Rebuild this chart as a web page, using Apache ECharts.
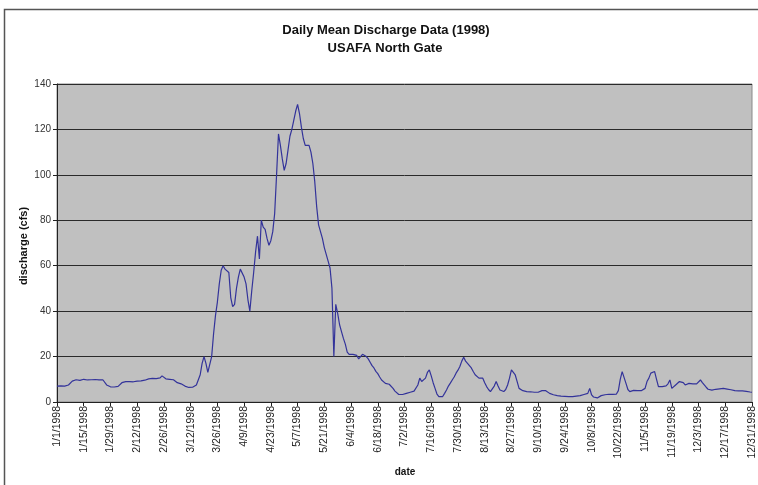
<!DOCTYPE html>
<html>
<head>
<meta charset="utf-8">
<script src="https://cdn.jsdelivr.net/npm/echarts@6/dist/echarts.min.js"></script>
<style>
html,body{margin:0;padding:0;background:#fff;}
#c{width:758px;height:485px;}
</style>
</head>
<body>
<div id="c"></div>
<script>
// Daily mean discharge (cfs), 1998
const jan = [7,7,7.1,7.2,7,7.3,7.5,8.2,9.2,9.6,9.8,9.7,9.5,9.8,10,9.9,9.7,9.6,9.8,10,9.9,9.8,9.7,9.6,9.8,9.5,7.5,6.8,6.7,6.9,6.6];
const feb = [6.8,6.9,7.2,8.5,8.8,9,8.9,9,9.1,8.9,9,9.2,9.1,9.3,9.4,9.6,9.8,10.2,10,10.4,9.8,10.3,10.1,10.6,11.5,11.2,10.2,10];
const mar = [10,10.2,9.8,9.5,8.5,8.2,8,8.3,7,6.5,6.4,6.6,6.5,6.8,7.5,8,12,17,20,17,13,12.5,20,30,38,44,52,58,60,58.5,58];
const apr = [57,46,42,43,50,55,58.5,58,55,52,45,40,49,57,66,73,63,80,77,76,72,69,71,75,83,100,118,113,107,102];
const may = [105,111,117,120,124,128,131,127,121,116,113,112.5,113,110,105,97,86,78,75,72,68,65,62,59,50,20,43,39,34,31,28];
const jun = [25.5,22,21,21.5,21,21,20.5,19,20,21,20.5,20,19,17.5,16,15,13.5,12.5,11,9.7,9,8.2,8,7.8,7.5,6,4.8,4,3.3,3.1];
const jul = [3.3,3.6,3.8,4,4.3,4.6,4.8,5.3,7.5,10.5,9,8.2,10.5,13,14.1,11.5,8.5,6,3.5,2.4,2.3,2.4,3.8,5.3,7,8.3,9.7,11,12.7,14,15.6];
const aug = [18,19.7,18,17,16.3,15,13.4,12,11.2,10.5,10.5,10.5,8.5,6.8,5.5,4.6,4.6,7,9,7,5.3,5,4.6,5.5,7.5,10.5,14.1,13,11.9,9,6];
const sep = [5.3,5,4.8,4.6,4.6,4.5,4.6,4.3,4.1,4.3,4.5,5,5.3,5,4.3,3.8,3.5,3.2,3,2.8,2.7,2.6,2.5,2.5,2.4,2.4,2.4,2.4,2.5,2.6];
const oct = [2.7,2.8,3.1,3.3,3.6,3.8,6,3.1,2.2,1.6,1.8,2.3,2.8,3.1,3.2,3.3,3.4,3.5,3.4,3.5,3.5,5,10,13.4,14,8.2,5.5,4.6,4.8,5.1,5.3];
const nov = [5,4.6,5,5.6,6,9,10.5,12.7,13,13.4,10,6.8,6.8,6.8,7,7.1,8,9.7,6,6.8,7.5,8,9,9.7,8.5,7.5,7.8,8.2,8,8];
const dec = [8,8,8.8,9.7,8.5,7.5,6.5,5.6,5,5.2,5.4,5.6,5.7,5.8,6,6,5.9,5.7,5.6,5.4,5.2,5,4.9,4.9,4.9,4.9,4.8,4.7,4.6,4.4,4.3];
const monthly = [jan,feb,mar,apr,may,jun,jul,aug,sep,oct,nov,dec];
const yTicks = [0,20,40,60,80,100,120,140];

const titleText = 'Daily Mean Discharge Data (1998)';
const subtitleText = 'USAFA North Gate';
const xName = 'date';
const yName = 'discharge (cfs)';

// categories: every day of 1998 as m/d/1998
const categories = [];
const discharge = [];
monthly.forEach(function(arr, m){
  arr.forEach(function(v, d){
    categories.push((m+1) + '/' + (d+1) + '/1998');
    discharge.push(v);
  });
});

const chart = echarts.init(document.getElementById('c'), null, {renderer:'canvas'});
const font = '"Liberation Sans", Arial, sans-serif';
chart.setOption({
  animation: false,
  backgroundColor: '#ffffff',
  textStyle: {fontFamily: font},
  title: [
    {text: titleText, left: 386, top: 24, textAlign: 'center', padding: 0,
     textStyle: {fontSize: 13, fontWeight: 'bold', color: '#111', fontFamily: font}},
    {text: subtitleText, left: 385, top: 42, textAlign: 'center', padding: 0,
     textStyle: {fontSize: 13, fontWeight: 'bold', color: '#111', fontFamily: font}}
  ],
  graphic: [
    {type: 'rect', shape: {x: 4.5, y: 9.5, width: 760, height: 480},
     style: {fill: 'none', stroke: '#555', lineWidth: 1.5}, silent: true, z: -1},
    {type: 'text', x: 405, y: 472, style: {text: xName, font: 'bold 10px ' + font, fill: '#111', textAlign: 'center', textVerticalAlign: 'middle'}},
    {type: 'text', x: 24, y: 246, rotation: Math.PI/2, style: {text: yName, font: 'bold 11px ' + font, fill: '#111', textAlign: 'center', textVerticalAlign: 'middle'}}
  ],
  grid: {left: 57, right: 6, top: 84, bottom: 83, show: true, backgroundColor: '#c0c0c0', borderColor: '#8a8a8a', borderWidth: 1, containLabel: false},
  xAxis: {
    type: 'category', data: categories, boundaryGap: false,
    axisLine: {show: true, lineStyle: {color: '#222', width: 1}},
    axisTick: {show: true, interval: 13, length: 4, lineStyle: {color: '#222'}},
    axisLabel: {interval: 13, rotate: 90, fontSize: 10.5, color: '#222', margin: 4, fontFamily: font},
    splitLine: {show: false}
  },
  yAxis: {
    type: 'value', min: yTicks[0], max: yTicks[yTicks.length-1], interval: 20,
    axisLine: {show: true, lineStyle: {color: '#222', width: 1}},
    axisTick: {show: true, length: 4, lineStyle: {color: '#222'}},
    axisLabel: {fontSize: 10, color: '#333', margin: 6, fontFamily: font},
    splitLine: {show: true, lineStyle: {color: '#2a2a2a', width: 1}}
  },
  series: [{
    type: 'line', data: discharge, showSymbol: false, symbol: 'none',
    lineStyle: {color: '#33339a', width: 1.2}, itemStyle: {color: '#33339a'}
  }]
});
</script>
</body>
</html>
